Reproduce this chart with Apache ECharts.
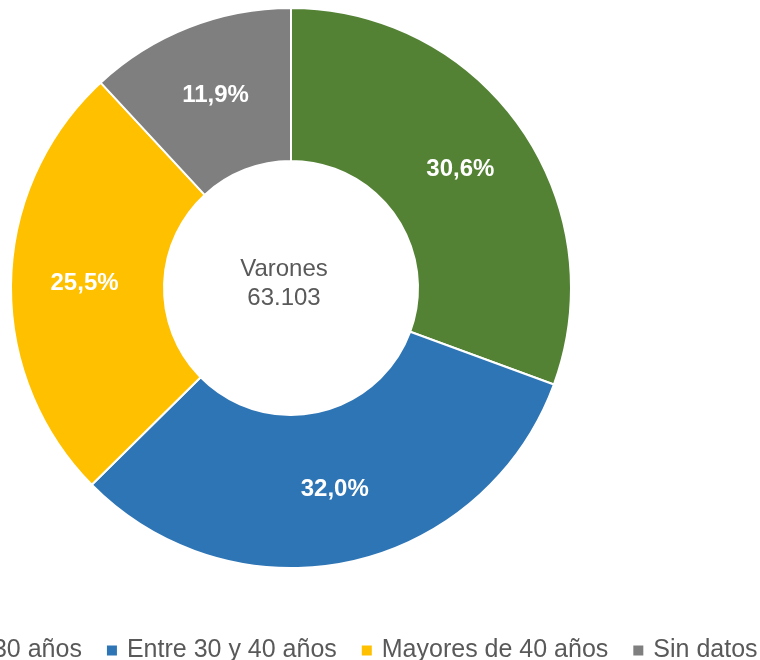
<!DOCTYPE html>
<html>
<head>
<meta charset="utf-8">
<script src="https://cdn.jsdelivr.net/npm/echarts@6/dist/echarts.min.js"></script>
<style>
  html, body { margin: 0; padding: 0; background: #fff; }
  #chart { width: 760px; height: 660px; }
</style>
</head>
<body>
<div id="chart"></div>
<script>
// categorías y valores (porcentaje sobre el total de varones)
const categories = ["Menores de 30 años", "Entre 30 y 40 años", "Mayores de 40 años", "Sin datos"];
const values = [30.6, 32.0, 25.5, 11.9];
const colors = ["#548235", "#2E75B6", "#FFC000", "#7F7F7F"];
const centerLabel = "Varones";
const total = "63.103";

let chart = echarts.init(document.getElementById("chart"));

let option = {
  animation: false,
  textStyle: { fontFamily: "Liberation Sans, Arial, sans-serif" },
  color: colors,
  legend: {
    top: 633,
    left: -171,
    width: 1400,
    icon: "rect",
    itemWidth: 10,
    itemHeight: 10,
    itemGap: 25,
    itemStyle: { borderWidth: 0 },
    textStyle: {
      color: "#595959",
      fontSize: 25,
      padding: [0, 0, 0, 5],
    },
    data: categories,
  },
  graphic: [
    {
      type: "text",
      x: 284,
      y: 284,
      style: {
        text: centerLabel + "\n" + total,
        fill: "#595959",
        fontSize: 24,
        lineHeight: 29,
        align: "center",
        verticalAlign: "middle",
        fontFamily: "Liberation Sans, Arial, sans-serif",
      },
    },
  ],
  series: [
    {
      type: "pie",
      center: [291, 288],
      radius: [127, 280],
      startAngle: 90,
      clockwise: true,
      itemStyle: { borderColor: "#fff", borderWidth: 2 },
      label: {
        position: "inside",
        color: "#fff",
        fontSize: 24,
        fontWeight: "bold",
        formatter: (p) => p.value.toFixed(1).replace(".", ",") + "%",
      },
      labelLine: { show: false },
      emphasis: { disabled: true },
      data: categories.map((c, i) => ({ name: c, value: values[i] })),
    },
  ],
};

chart.setOption(option);
</script>
</body>
</html>
